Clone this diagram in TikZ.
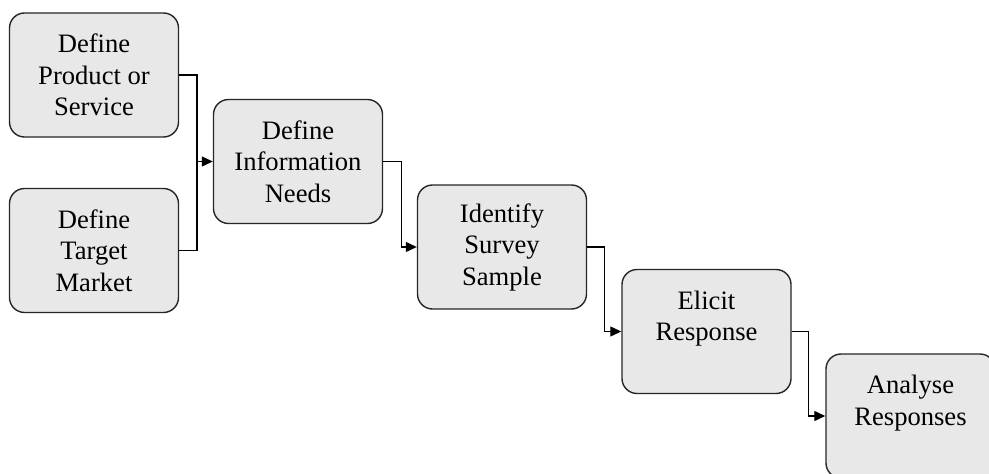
\documentclass[tikz,border=0pt]{standalone}
\usepackage{fontspec}
\setmainfont{Liberation Serif}
\usetikzlibrary{arrows.meta,calc}

\tikzset{
  stage/.style={draw=black!85, line width=1.4pt, fill=black!9, rounded corners=15pt,
    minimum width=169pt, minimum height=124pt, align=center, inner sep=0pt,
    font=\fontsize{26.6}{31.5}\selectfont},
  link/.style={draw=black, line width=1.2pt, -{Triangle[length=11pt,width=10pt]}},
  joint/.style={draw=black, line width=1.2pt}
}

\begin{document}
\begin{tikzpicture}[x=1pt,y=-1pt]
  \clip (0,0) rectangle (989,474);
  \fill[white] (0,0) rectangle (989,474);

  % process stages
  \node[stage] (prod)   at (94,75)      {Define\\Product or\\Service};
  \node[stage] (market) at (94,250.5)   {Define\\Target\\Market};
  \node[stage] (needs)  at (298,161.5)  {Define\\Information\\Needs};
  \node[stage] (sample) at (502,247)    {Identify\\Survey\\Sample};
  \node[stage] (elicit) at (706.5,331.5){Elicit\\Response\\~};
  \node[stage] (analyse) at (910.5,416) {Analyse\\Responses\\~};

  % the two definitions join before feeding the information needs
  \coordinate (join) at (197,161.5);
  \draw[joint] (prod.east) -| (join);
  \draw[joint] (market.east) -| (join);
  \draw[link] (join) -- (needs.west);

  % stepped connectors down the chain
  \draw[link] (needs.east) -- ++(18,0) |- (sample.west);
  \draw[link] (sample.east) -- ++(17,0) |- (elicit.west);
  \draw[link] (elicit.east) -- ++(17,0) |- (analyse.west);
\end{tikzpicture}
\end{document}
